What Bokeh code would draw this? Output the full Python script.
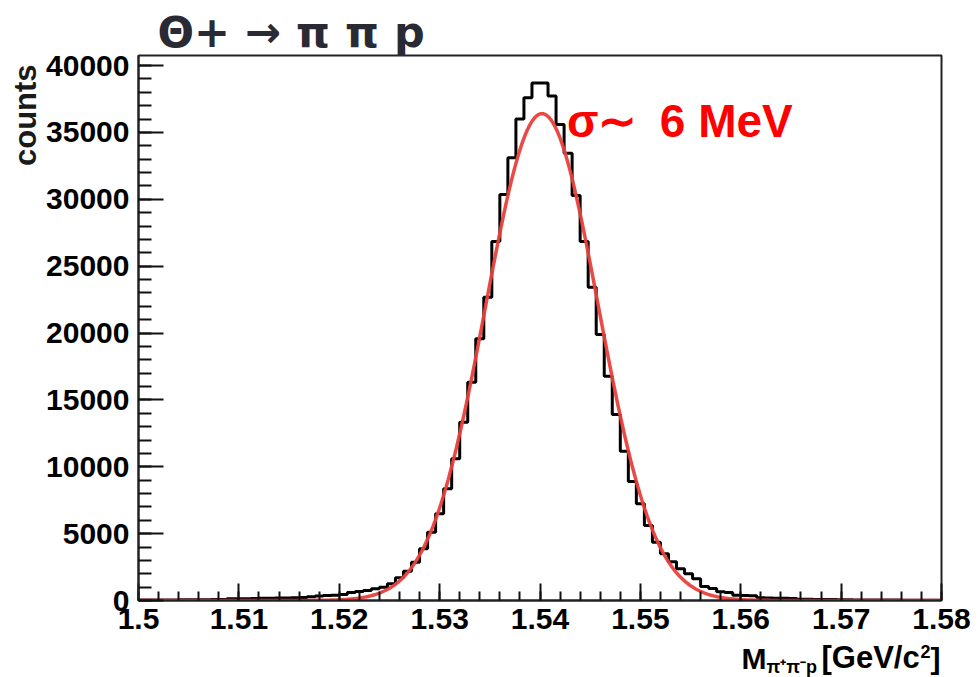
import numpy as np
from bokeh.plotting import figure
from bokeh.layouts import column, row
from bokeh.models import Label, FixedTicker, CustomJSTickFormatter, Range1d, Title
from bokeh.core.properties import value
from bokeh.embed import file_html
from bokeh.resources import INLINE

# ---------------- data ----------------
# histogram: 100 bins of 0.8 MeV from 1.50 to 1.58 GeV/c^2
bin_low = 1.5
bin_high = 1.58
n_bins = 100
counts = [
    30, 30, 40, 40, 40, 50, 50, 50, 60, 70,
    80, 130, 140, 140, 150, 160, 170, 180, 190, 200,
    220, 280, 330, 370, 400, 450, 600, 670, 750, 870,
    1000, 1250, 1700, 2190, 2860, 3870, 5110, 6480, 8350, 10590,
    13330, 16320, 19570, 22680, 26850, 30350, 33100, 36000, 37600, 38700,
    38700, 37730, 35590, 33440, 30280, 26850, 23430, 19890, 16770, 13900,
    11160, 8900, 7230, 5610, 4360, 3490, 2900, 2370, 2000, 1620,
    1050, 900, 650, 600, 400, 370, 350, 200, 180, 170,
    160, 150, 100, 90, 80, 80, 70, 60, 60, 40,
    40, 30, 30, 30, 30, 20, 20, 20, 20, 20,
]
# gaussian fit parameters (GeV)
fit_amplitude = 36400
fit_mean = 1.5402
fit_sigma = 0.0056

x_ticks = [1.5, 1.51, 1.52, 1.53, 1.54, 1.55, 1.56, 1.57, 1.58]
x_minor_ticks = [round(1.5 + 0.002 * i, 4) for i in range(41)]
y_ticks = [0, 5000, 10000, 15000, 20000, 25000, 30000, 35000, 40000]
y_minor_ticks = [1000 * i for i in range(41)]

title_text = "Θ+ → π π p"
fit_text = ["σ∼", "6 MeV"]
y_title = "counts"
x_title = ["M", "π⁺π⁻p", "[GeV/c", "2", "]"]

FONT = "Liberation Sans"
MID = 0.35  # middle of the text box above the baseline, in em

# ---------------- layout geometry (px) ----------------
W, H = 980, 677
LEFT_W = 43
FRAME_L, FRAME_R, FRAME_T, FRAME_B = 137, 941, 55, 600
MAIN_BOTTOM_BORDER = 39
ROW_H = FRAME_B + MAIN_BOTTOM_BORDER
BOTTOM_TOP = ROW_H
BOTTOM_H = H - BOTTOM_TOP


def panel(width, height):
    f = figure(width=width, height=height, x_range=Range1d(0, width),
               y_range=Range1d(0, height), x_axis_type=None, y_axis_type=None,
               output_backend="svg", toolbar_location=None, min_border=0)
    f.outline_line_color = None
    f.background_fill_color = "white"
    f.border_fill_color = "white"
    return f


def put(f, top, height, s, px, py, size, color="black", style="bold",
        font=FONT, left=0):
    f.text(x=[px - left], y=[height - (py - MID * size - top)], text=[s],
           text_font=value(font), text_font_size=f"{size}px",
           text_font_style=style, text_color=color, text_align="left",
           text_baseline="middle")


# ---------------- left panel (y title) ----------------
left_fig = panel(LEFT_W, ROW_H)
left_fig.text(x=[36 - MID * 31], y=[ROW_H - 109 + MAIN_BOTTOM_BORDER],
              text=[y_title],
              text_font=value(FONT), text_font_size="31px",
              text_font_style="bold", text_color="#1a1a1a",
              text_align="center", text_baseline="middle", angle=np.pi / 2)

# ---------------- main plot ----------------
Y_END = 40750
p = figure(width=W - LEFT_W, height=ROW_H,
           x_range=Range1d(bin_low, bin_high), y_range=Range1d(0, Y_END),
           output_backend="svg", toolbar_location=None,
           min_border_left=FRAME_L - LEFT_W, min_border_right=W - FRAME_R,
           min_border_top=FRAME_T, min_border_bottom=MAIN_BOTTOM_BORDER)
p.background_fill_color = "white"
p.border_fill_color = "white"
p.outline_line_color = "#222222"
p.outline_line_width = 2
p.xgrid.grid_line_color = None
p.ygrid.grid_line_color = None

p.add_layout(Title(text=title_text, align="left", offset=19, standoff=-3,
                   text_font="DejaVu Sans", text_font_size="43px",
                   text_font_style="bold", text_color="#2a2a35"), "above")

for ax in (p.xaxis[0], p.yaxis[0]):
    ax.axis_line_color = "#222222"
    ax.axis_line_width = 2
    ax.major_tick_line_color = "#111111"
    ax.minor_tick_line_color = "#111111"
    ax.major_tick_line_width = 2
    ax.minor_tick_line_width = 2
    ax.major_tick_out = 0
    ax.minor_tick_out = 0
    ax.major_label_text_font = FONT
    ax.major_label_text_font_style = "bold"
    ax.major_label_text_font_size = "30px"
    ax.major_label_text_color = "black"

p.xaxis.ticker = FixedTicker(ticks=x_ticks, minor_ticks=x_minor_ticks)
p.xaxis.formatter = CustomJSTickFormatter(code="return tick.toFixed(2).replace(/0$/, '');")
p.xaxis.major_tick_in = 17
p.xaxis.minor_tick_in = 9
p.xaxis.major_label_standoff = 8

p.yaxis.ticker = FixedTicker(ticks=y_ticks, minor_ticks=y_minor_ticks)
p.yaxis.major_tick_in = 25
p.yaxis.minor_tick_in = 13
p.yaxis.major_label_standoff = 9

# histogram as step outline
edges = np.linspace(bin_low, bin_high, n_bins + 1)
step_y = list(counts) + [counts[-1]]
p.step(x=edges, y=step_y, mode="after", line_color="black", line_width=3)

# gaussian fit curve
xf = np.linspace(bin_low, bin_high, 800)
yf = fit_amplitude * np.exp(-0.5 * ((xf - fit_mean) / fit_sigma) ** 2)
p.line(xf, yf, line_color="#e8403c", line_width=3.5, line_alpha=0.95)


def Xd(px):
    return bin_low + (px - FRAME_L) / (FRAME_R - FRAME_L) * (bin_high - bin_low)


def Yd(py):
    return (FRAME_B - py) / (FRAME_B - FRAME_T) * Y_END


for s, px in ((fit_text[0], 566), (fit_text[1], 659)):
    p.add_layout(Label(x=Xd(px), y=Yd(137 - MID * 46), text=s, text_font=FONT,
                       text_font_size="46px", text_font_style="bold",
                       text_color="#ff0000", text_align="left",
                       text_baseline="middle"))

# ---------------- bottom panel (x title) ----------------
bottom_fig = panel(W, BOTTOM_H)
put(bottom_fig, BOTTOM_TOP, BOTTOM_H, x_title[0], 741, 668, 30)
put(bottom_fig, BOTTOM_TOP, BOTTOM_H, x_title[1], 766, 673, 18)
put(bottom_fig, BOTTOM_TOP, BOTTOM_H, x_title[2], 821, 668, 31)
put(bottom_fig, BOTTOM_TOP, BOTTOM_H, x_title[3], 920, 657, 18)
put(bottom_fig, BOTTOM_TOP, BOTTOM_H, x_title[4], 930, 668, 30)

layout = column(row(left_fig, p), bottom_fig)
open("out.html", "w").write(file_html(layout, INLINE))
